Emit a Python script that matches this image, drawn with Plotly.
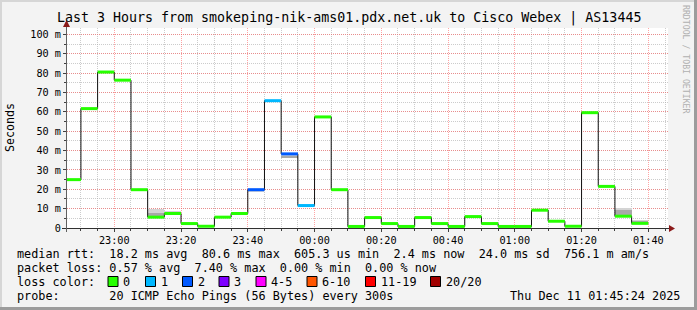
import plotly.graph_objects as go
import pandas as pd

# ---------------- data ----------------
interval_start = ["22:45", "22:50", "22:55", "23:00", "23:05", "23:10", "23:15", "23:20",
                  "23:25", "23:30", "23:35", "23:40", "23:45", "23:50", "23:55", "00:00",
                  "00:05", "00:10", "00:15", "00:20", "00:25", "00:30", "00:35", "00:40",
                  "00:45", "00:50", "00:55", "01:00", "01:05", "01:10", "01:15", "01:20",
                  "01:25", "01:30", "01:35"]
median_ms = [25.0, 61.7, 80.6, 76.4, 19.8, 5.6, 7.5, 2.3,
             0.9, 5.6, 7.5, 19.8, 65.8, 38.3, 11.6, 57.4,
             19.8, 0.8, 5.4, 2.3, 0.8, 5.4, 2.3, 0.8,
             5.9, 2.3, 0.8, 0.8, 9.2, 3.5, 0.9, 59.6,
             21.5, 6.1, 2.4]
loss_count = [0, 0, 0, 0, 0, 0, 0, 0,
              0, 0, 0, 2, 1, 2, 1, 0,
              0, 0, 0, 0, 0, 0, 0, 0,
              0, 0, 0, 0, 0, 0, 0, 0,
              0, 0, 0]
# smoke (spread of the 20 pings) - light outer band and darker inner band
smoke_light_lo = [None]*5 + [5.6, 7.5] + [None]*4 + [18.8, None, 36.0] + [None]*19 + [6.1, 2.3]
smoke_light_hi = [None]*5 + [10.0, 9.0] + [None]*4 + [19.8, None, 38.3] + [None]*19 + [10.3, 3.9]
smoke_dark_lo = [None]*5 + [5.6, None] + [None]*4 + [None, None, 36.0] + [None]*19 + [6.1, 2.4]
smoke_dark_hi = [None]*5 + [8.0, None] + [None]*4 + [None, None, 37.2] + [None]*19 + [9.5, 3.4]

y_tickvals = [0, 10, 20, 30, 40, 50, 60, 70, 80, 90, 100]
y_ticktext = ["0", "10 m", "20 m", "30 m", "40 m", "50 m", "60 m", "70 m", "80 m", "90 m", "100 m"]

loss_labels = ["0", "1", "2", "3", "4-5", "6-10", "11-19", "20/20"]
loss_colors = ["#26ff00", "#00b8ff", "#0059ff", "#7e00ff", "#ff00ff", "#ff5500", "#ff0000", "#a10000"]

title_text = "Last 3 Hours from smokeping-nik-ams01.pdx.net.uk to Cisco Webex | AS13445"
legend_line1 = "median rtt:  18.2 ms avg  80.6 ms max  605.3 us min  2.4 ms now  24.0 ms sd  756.1 m am/s"
legend_line2 = "packet loss: 0.57 % avg  7.40 % max  0.00 % min  0.00 % now"
legend_line3 = "loss color:"
legend_line4 = "probe:       20 ICMP Echo Pings (56 Bytes) every 300s"
date_text = "Thu Dec 11 01:45:24 2025"

# ---------------- helpers ----------------
W, H = 697, 310
L, R, T, B = 67, 668, 28, 228
FONT = "DejaVu Sans Mono"


def px(x):
    return (x - L) / (R - L)


def py(y):
    return (B - y) / (B - T)


def to_ts(hm):
    day = "2025-12-10" if hm >= "12:00" else "2025-12-11"
    return pd.Timestamp(f"{day} {hm}")


starts = [to_ts(s) for s in interval_start]
step = pd.Timedelta(minutes=5)
ends = [s + step for s in starts]
centers = [s + step / 2 for s in starts]

fig = go.Figure()

# smoke
for lo, hi, col in [(smoke_light_lo, smoke_light_hi, "#d4d4d4"), (smoke_dark_lo, smoke_dark_hi, "#a8a8a8")]:
    xs, bases, hs = [], [], []
    for c, a, b in zip(centers, lo, hi):
        if a is not None:
            xs.append(c)
            bases.append(a)
            hs.append(b - a)
    fig.add_trace(go.Bar(x=xs, y=hs, base=bases, width=300000, marker=dict(color=col, line=dict(width=0)),
                         hoverinfo="skip", showlegend=False))

# thin median step line
fig.add_trace(go.Scatter(x=starts + [ends[-1]], y=median_ms + [median_ms[-1]], mode="lines",
                         line=dict(shape="hv", color="#101010", width=1), hoverinfo="skip", showlegend=False))


def bucket(n):
    if n <= 3:
        return n
    if n <= 5:
        return 4
    if n <= 10:
        return 5
    if n <= 19:
        return 6
    return 7


for bi, col in enumerate(loss_colors):
    xs, ys = [], []
    for s, e, v, n in zip(starts, ends, median_ms, loss_count):
        if bucket(n) == bi:
            xs += [s, e, None]
            ys += [v, v, None]
    if xs:
        fig.add_trace(go.Scatter(x=xs, y=ys, mode="lines", line=dict(color=col, width=3),
                                 hoverinfo="skip", showlegend=False))

x0 = pd.Timestamp("2025-12-10 22:45:50")
x1 = pd.Timestamp("2025-12-11 01:45:54")

MGRID = "rgba(255,90,90,0.55)"
GRID = "rgba(170,170,170,0.6)"

fig.update_layout(
    width=W, height=H,
    margin=dict(l=L, r=W - R, t=T, b=H - B, pad=0),
    paper_bgcolor="#f3f3f3", plot_bgcolor="#ffffff",
    barmode="overlay", bargap=0,
    showlegend=False,
    font=dict(family=FONT, color="#000000"),
    xaxis=dict(type="date", range=[x0, x1], tickformat="%H:%M", dtick=20 * 60 * 1000,
               tick0="2025-12-10 23:00", showgrid=True, gridcolor=MGRID, griddash="1px,1px", gridwidth=1,
               zeroline=False, showline=False, ticks="outside", ticklen=3, tickcolor="#404040",
               tickfont=dict(family=FONT, size=10.2, color="#000"),
               minor=dict(dtick=5 * 60 * 1000, tick0="2025-12-10 23:00", showgrid=True, gridcolor=GRID,
                          griddash="1px,1px", ticks="outside", ticklen=2, tickcolor="#404040")),
    yaxis=dict(range=[0, 103.36], tickvals=y_tickvals, ticktext=y_ticktext, showgrid=True,
               gridcolor=MGRID, griddash="1px,1px", zeroline=False, showline=False,
               ticks="outside", ticklen=3, tickcolor="#404040",
               tickfont=dict(family=FONT, size=10.2, color="#000"),
               minor=dict(dtick=5, tick0=0, showgrid=True, gridcolor=GRID, griddash="1px,1px",
                          ticks="outside", ticklen=2, tickcolor="#404040")),
)

shapes = []
# axes lines
shapes.append(dict(type="line", xref="paper", yref="paper", x0=px(62), x1=px(670), y0=py(228.5), y1=py(228.5),
                   line=dict(color="#303030", width=1)))
shapes.append(dict(type="line", xref="paper", yref="paper", x0=px(66.5), x1=px(66.5), y0=py(232), y1=py(24),
                   line=dict(color="#606060", width=1)))
# arrows


def tri(pts):
    return "M " + " L ".join(f"{px(a)},{py(b)}" for a, b in pts) + " Z"


shapes.append(dict(type="path", xref="paper", yref="paper", path=tri([(669, 225), (669, 232), (675, 228.5)]),
                   fillcolor="#8b1a1a", line=dict(color="#8b1a1a", width=0)))
shapes.append(dict(type="path", xref="paper", yref="paper", path=tri([(63, 27), (70, 27), (66.5, 20)]),
                   fillcolor="#8b1a1a", line=dict(color="#8b1a1a", width=0)))
# border
shapes.append(dict(type="rect", xref="paper", yref="paper", x0=px(0), x1=px(697), y0=py(0), y1=py(2),
                   fillcolor="#d6d6d6", line=dict(width=0)))
shapes.append(dict(type="rect", xref="paper", yref="paper", x0=px(0), x1=px(2), y0=py(0), y1=py(310),
                   fillcolor="#d6d6d6", line=dict(width=0)))
shapes.append(dict(type="rect", xref="paper", yref="paper", x0=px(0), x1=px(697), y0=py(307), y1=py(310),
                   fillcolor="#9c9c9c", line=dict(width=0)))
shapes.append(dict(type="rect", xref="paper", yref="paper", x0=px(694), x1=px(697), y0=py(0), y1=py(310),
                   fillcolor="#9c9c9c", line=dict(width=0)))

# loss colour boxes
box_x = [108, 145.5, 182.5, 219, 256, 307, 365.5, 430.5]
for bx, col in zip(box_x, loss_colors):
    shapes.append(dict(type="rect", xref="paper", yref="paper", x0=px(bx), x1=px(bx + 10),
                       y0=py(286.5), y1=py(276.5), fillcolor=col, line=dict(color="#000", width=1)))

fig.update_layout(shapes=shapes)


def nb(s):
    return s.replace(" ", "\u00a0")


LEG = 11.8
ann = []
ann.append(dict(text=nb(title_text), x=px(348.5), y=py(18), xanchor="center", yanchor="middle",
                font=dict(family=FONT, size=13.3, color="#000")))
ann.append(dict(text="Seconds", x=px(10), y=py(128), xanchor="center", yanchor="middle", textangle=-90,
                font=dict(family=FONT, size=11.67, color="#000")))
ann.append(dict(text=nb("RRDTOOL / TOBI OETIKER"), x=px(686), y=py(59), xanchor="center", yanchor="middle",
                textangle=90, font=dict(family=FONT, size=8.2, color="#b0b0b0")))
for txt, yy in [(legend_line1, 254.3), (legend_line2, 268.3), (legend_line3, 281.7), (legend_line4, 296)]:
    ann.append(dict(text=nb(txt), x=px(16), y=py(yy), xanchor="left", yanchor="middle",
                    font=dict(family=FONT, size=LEG, color="#000")))
for bx, lab in zip(box_x, loss_labels):
    ann.append(dict(text=nb(lab), x=px(bx + 14), y=py(281.7), xanchor="left", yanchor="middle",
                    font=dict(family=FONT, size=LEG, color="#000")))
ann.append(dict(text=nb(date_text), x=px(681), y=py(296), xanchor="right", yanchor="middle",
                font=dict(family=FONT, size=LEG, color="#000")))
for a in ann:
    a.update(xref="paper", yref="paper", showarrow=False, borderpad=0)
fig.update_layout(annotations=ann)

fig.write_html("out.html")
